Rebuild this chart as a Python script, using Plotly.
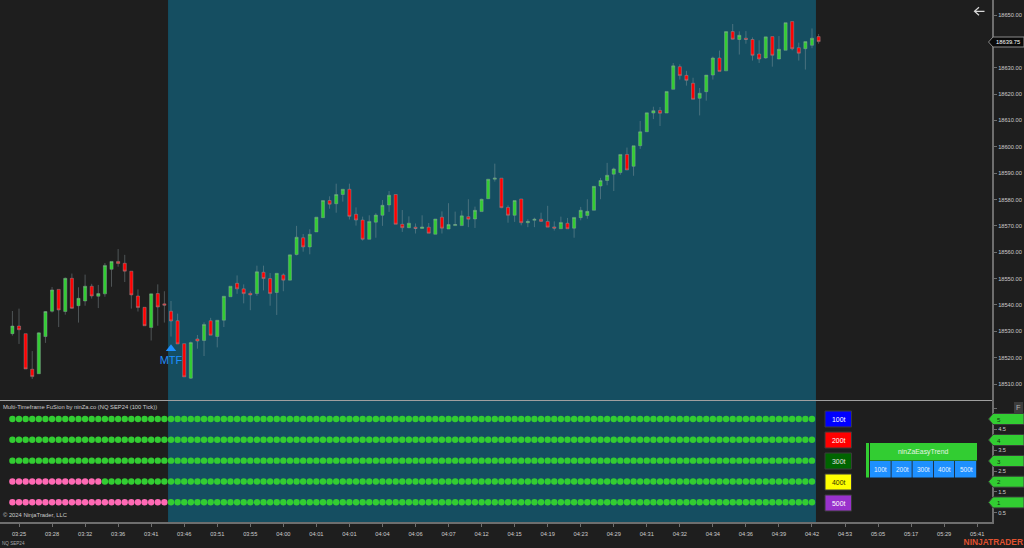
import plotly.graph_objects as go

# candles (NQ SEP24, 100 tick)
opens = [18529.1, 18532.0, 18529.1, 18515.6, 18513.9, 18528.0, 18537.6, 18545.9, 18537.5, 18550.1,
         18539.7, 18541.5, 18547.1, 18543.3, 18544.2, 18553.5, 18556.5, 18555.8, 18552.8, 18543.4,
         18539.1, 18531.4, 18544.3, 18540.4, 18537.6, 18534.0, 18525.3, 18512.2, 18527.1, 18526.5,
         18534.0, 18528.0, 18534.2, 18543.1, 18548.2, 18546.1, 18544.4, 18544.3, 18552.4, 18550.0,
         18544.7, 18551.4, 18549.4, 18559.1, 18565.5, 18562.0, 18567.7, 18573.1, 18579.6, 18578.4,
         18581.9, 18583.9, 18574.4, 18572.2, 18564.9, 18571.4, 18574.0, 18577.9, 18581.9, 18570.6,
         18569.3, 18569.5, 18569.0, 18569.5, 18566.8, 18573.3, 18568.8, 18570.1, 18570.1, 18573.5,
         18572.6, 18575.4, 18580.3, 18587.7, 18588.1, 18577.0, 18574.0, 18580.2, 18571.2, 18572.1,
         18572.5, 18571.7, 18569.6, 18568.9, 18571.0, 18569.1, 18573.1, 18573.9, 18575.9, 18585.1,
         18587.2, 18589.6, 18590.2, 18597.1, 18592.6, 18600.4, 18605.7, 18612.8, 18613.8, 18612.8,
         18621.8, 18630.4, 18627.1, 18624.1, 18618.4, 18620.9, 18627.2, 18633.7, 18628.8, 18643.7,
         18640.7, 18641.2, 18640.7, 18635.2, 18633.7, 18641.8, 18633.3, 18636.6, 18647.5, 18637.6,
         18637.2, 18638.5, 18641.8]
highs = [18537.7, 18538.6, 18529.1, 18522.5, 18529.6, 18537.7, 18546.8, 18545.9, 18550.4, 18551.9,
         18546.7, 18551.5, 18548.0, 18547.6, 18555.9, 18556.5, 18561.2, 18559.0, 18552.8, 18545.9,
         18539.1, 18544.2, 18547.8, 18545.2, 18541.5, 18536.7, 18525.3, 18526.1, 18528.6, 18533.4,
         18535.1, 18534.2, 18543.3, 18547.1, 18551.2, 18547.8, 18545.2, 18554.9, 18554.9, 18552.1,
         18552.0, 18552.0, 18559.0, 18570.0, 18566.9, 18568.7, 18573.3, 18579.7, 18581.2, 18586.0,
         18583.9, 18586.0, 18577.0, 18573.5, 18574.0, 18574.8, 18579.8, 18583.2, 18581.9, 18576.0,
         18573.6, 18570.9, 18574.0, 18571.1, 18572.6, 18575.5, 18578.6, 18575.4, 18575.8, 18580.1,
         18577.3, 18580.3, 18587.7, 18593.6, 18588.1, 18577.8, 18579.6, 18580.2, 18572.5, 18573.1,
         18575.0, 18577.6, 18571.7, 18573.5, 18573.0, 18573.2, 18577.2, 18580.1, 18585.0, 18588.2,
         18593.9, 18592.1, 18597.1, 18599.7, 18600.4, 18609.8, 18612.9, 18615.2, 18615.1, 18621.0,
         18631.8, 18631.3, 18628.8, 18626.2, 18622.3, 18627.2, 18634.2, 18636.5, 18643.7, 18646.6,
         18643.8, 18643.9, 18641.5, 18640.4, 18641.7, 18641.8, 18642.0, 18647.1, 18647.5, 18639.5,
         18639.9, 18644.9, 18642.8]
lows = [18528.35, 18525.2, 18515.7, 18511.9, 18513.9, 18525.6, 18537.1, 18531.6, 18536.3, 18538.5,
        18533.3, 18539.7, 18542.4, 18538.8, 18543.1, 18546.9, 18554.5, 18548.7, 18538.6, 18537.5,
        18532.1, 18526.5, 18532.1, 18533.3, 18528.0, 18525.2, 18512.7, 18511.9, 18523.4, 18520.6,
        18528.5, 18523.9, 18531.6, 18543.1, 18544.2, 18540.6, 18538.0, 18543.5, 18545.5, 18539.7,
        18536.2, 18545.2, 18549.4, 18558.8, 18560.2, 18559.2, 18567.7, 18573.1, 18576.5, 18575.0,
        18579.2, 18572.4, 18570.1, 18564.4, 18564.9, 18565.5, 18570.0, 18575.3, 18570.6, 18567.7,
        18569.1, 18567.1, 18569.0, 18567.2, 18566.8, 18567.1, 18568.8, 18570.1, 18570.1, 18569.5,
        18569.2, 18575.4, 18580.3, 18586.8, 18576.7, 18571.2, 18571.5, 18570.2, 18569.5, 18569.5,
        18571.5, 18569.5, 18568.2, 18568.9, 18568.9, 18565.5, 18572.1, 18572.7, 18575.9, 18580.1,
        18585.4, 18583.2, 18589.4, 18591.2, 18589.0, 18599.2, 18605.7, 18610.5, 18607.9, 18612.8,
        18621.8, 18625.5, 18623.2, 18618.0, 18611.9, 18617.5, 18625.5, 18628.6, 18628.8, 18640.7,
        18635.0, 18639.1, 18632.7, 18631.8, 18633.4, 18630.4, 18633.2, 18636.6, 18636.6, 18632.7,
        18629.3, 18637.4, 18639.1]
closes = [18532.0, 18530.6, 18515.7, 18512.8, 18529.4, 18537.5, 18545.7, 18538.1, 18550.1, 18538.7,
          18542.5, 18547.1, 18543.4, 18544.3, 18555.0, 18556.5, 18555.7, 18552.8, 18543.8, 18539.0,
          18532.1, 18544.2, 18539.2, 18539.9, 18533.9, 18525.2, 18512.7, 18525.7, 18526.3, 18532.6,
          18528.5, 18534.2, 18543.3, 18547.1, 18546.1, 18544.3, 18543.8, 18552.6, 18550.0, 18544.3,
          18552.0, 18549.4, 18559.0, 18565.7, 18562.0, 18566.8, 18573.3, 18579.6, 18578.2, 18581.9,
          18583.9, 18573.6, 18572.2, 18564.9, 18571.7, 18574.1, 18577.8, 18581.6, 18570.6, 18569.3,
          18571.0, 18569.0, 18569.6, 18567.2, 18572.6, 18569.1, 18570.5, 18570.5, 18573.8, 18572.5,
          18575.9, 18580.1, 18587.7, 18588.1, 18576.9, 18574.0, 18579.6, 18571.2, 18571.7, 18572.5,
          18571.7, 18569.5, 18569.1, 18571.3, 18568.9, 18573.2, 18575.9, 18575.5, 18585.0, 18587.2,
          18589.2, 18591.6, 18597.1, 18591.2, 18600.4, 18605.7, 18612.9, 18613.7, 18612.7, 18621.0,
          18630.7, 18627.0, 18625.2, 18618.0, 18620.3, 18627.2, 18633.7, 18628.6, 18643.7, 18640.8,
          18642.3, 18640.7, 18634.7, 18633.3, 18641.7, 18634.7, 18637.0, 18647.1, 18637.2, 18635.5,
          18639.9, 18641.2, 18639.9]
last_price = "18639.75"

price_ticks = [18510, 18520, 18530, 18540, 18550, 18560, 18570, 18580, 18590, 18600, 18610, 18620, 18630, 18640, 18650]
# 18640.00 sits under the last price flag
price_labels = ["18510.00", "18520.00", "18530.00", "18540.00", "18550.00", "18560.00", "18570.00", "18580.00",
                "18590.00", "18600.00", "18610.00", "18620.00", "18630.00", "", "18650.00"]

time_labels = ["03:25", "03:28", "03:32", "03:36", "03:41", "03:46", "03:51", "03:55", "04:00", "04:01",
               "04:01", "04:04", "04:06", "04:07", "04:12", "04:15", "04:19", "04:23", "04:29", "04:31",
               "04:32", "04:34", "04:36", "04:39", "04:42", "04:53", "05:05", "05:17", "05:29", "05:41"]
time_ticks = [1 + 5 * k for k in range(len(time_labels))]

# fusion panel: 5 rows of dots, pink until the row flips to green
row_levels = [5, 4, 3, 2, 1]
row_pink_bars = [0, 0, 0, 14, 24]
dot_count = 122
panel_ticks = [0.5, 1, 1.5, 2, 2.5, 3, 3.5, 4, 4.5, 5, 5.5]
panel_labels = ["0.5", "", "1.5", "", "2.5", "", "3.5", "", "4.5", "", ""]

legend_names = ["100t", "200t", "300t", "400t", "500t"]
legend_fills = ["#0000FF", "#FF0000", "#006400", "#FFFF00", "#9932CC"]
legend_text = ["#FFFFFF", "#FFFFFF", "#E0E0E0", "#333300", "#FFFFFF"]

signal_bar = [24]
signal_price = [18523.4]

BG = "#1E1E1E"
TEAL = "#154E61"
GREEN = "#32CD32"
RED = "#FF0000"
PINK = "#FF69B4"
AXIS = "#6E6E6E"
TXT = "#CCCCCC"
FONT = "Liberation Sans"


def px(x):
    return x / 1024


def py(y):
    return 1 - y / 548


bars = list(range(len(opens)))

fig = go.Figure()
fig.add_trace(go.Candlestick(
    x=bars, open=opens, high=highs, low=lows, close=closes,
    whiskerwidth=0, xaxis="x", yaxis="y", showlegend=False, hoverinfo="skip",
    increasing=dict(line=dict(color="rgba(150,165,170,0.45)", width=0.9), fillcolor=GREEN),
    decreasing=dict(line=dict(color="rgba(150,165,170,0.45)", width=0.9), fillcolor=RED)))

fig.add_trace(go.Scatter(
    x=signal_bar, y=signal_price, mode="markers+text", text=["MTF"], textposition="bottom center",
    textfont=dict(family=FONT, size=11, color="#1E90FF"), xaxis="x", yaxis="y",
    marker=dict(symbol="triangle-up", size=9, color="#1E90FF"), showlegend=False, hoverinfo="skip"))

for level, pink in zip(row_levels, row_pink_bars):
    colors = [PINK if i < pink else GREEN for i in range(dot_count)]
    fig.add_trace(go.Scatter(
        x=list(range(dot_count)), y=[level] * dot_count, mode="markers", xaxis="x", yaxis="y2",
        marker=dict(size=6.4, color=colors, line=dict(width=0)), showlegend=False, hoverinfo="skip"))

# logo on a hidden full-page axis, a paper annotation this close to the edge pushes the margins
fig.add_trace(go.Scatter(
    x=[1023], y=[542.5], mode="text", text=["<b>NINJATRADER</b>"], textposition="middle left",
    textfont=dict(family=FONT, size=8.4, color="#E0512F"), xaxis="x2", yaxis="y3",
    showlegend=False, hoverinfo="skip"))

shapes = [
    dict(type="rect", xref="x", yref="paper", x0=23.55, x1=121.6, y0=py(522), y1=1,
         fillcolor=TEAL, line=dict(width=0), layer="below"),
    dict(type="line", xref="paper", yref="paper", x0=0, x1=px(992), y0=py(400.5), y1=py(400.5),
         line=dict(color="#A0A0A0", width=1)),
]
annotations = []


def label(x, y, text, size=5.7, color=TXT, anchor="center"):
    annotations.append(dict(xref="paper", yref="paper", x=px(x), y=py(y), text=text, showarrow=False,
                            xanchor=anchor, yanchor="middle", borderpad=0, borderwidth=0,
                            font=dict(family=FONT, size=size, color=color)))


def box(x0, y0, x1, y1, fill, line=None):
    shapes.append(dict(type="rect", xref="paper", yref="paper", x0=px(x0), x1=px(x1), y0=py(y0), y1=py(y1),
                       fillcolor=fill, line=dict(width=1 if line else 0, color=line or fill)))


# colour key next to the dots
for k, name in enumerate(legend_names):
    top = 411 + 21 * k
    box(825, top, 851.5, top + 16, legend_fills[k], "#3A3A3A")
    label(838.5, top + 8, name, size=6.9, color=legend_text[k])

# ninZaEasyTrend panel
box(866, 443, 869, 477.5, GREEN)
box(870, 443, 977, 460.5, GREEN)
label(923, 452, "ninZaEasyTrend", size=6.9, color="#E4F4E4")
cell_edges = [870, 891.5, 912.5, 934, 955, 977]
for k, name in enumerate(legend_names):
    box(cell_edges[k], 461, cell_edges[k + 1] - 0.8, 477.5, "#1E90FF")
    label((cell_edges[k] + cell_edges[k + 1]) / 2, 469.5, name, size=6.5, color="#E8F2FF")

# level flags on the panel axis
for level, y in zip(row_levels, [419, 440, 461, 481.7, 502.4]):
    path = "M {} {} L {} {} L {} {} L {} {} L {} {} Z".format(
        px(988.5), py(y), px(993), py(y - 5.5), px(1024), py(y - 5.5), px(1024), py(y + 5.5), px(993), py(y + 5.5))
    shapes.append(dict(type="path", xref="paper", yref="paper", path=path, fillcolor=GREEN,
                       line=dict(color="#3a3a3a", width=1)))
    label(998.5, y, str(level), size=6.2, color="#10300F")

# last price flag
path = "M {} {} L {} {} L {} {} L {} {} L {} {} Z".format(
    px(988.5), py(42), px(993), py(37), px(1024), py(37), px(1024), py(47), px(993), py(47))
shapes.append(dict(type="path", xref="paper", yref="paper", path=path, fillcolor="#0A0A0A",
                   line=dict(color="#8A8A8A", width=1)))
label(1008, 42.2, last_price, size=5.8, color="#FFFFFF")

# back arrow
arrow = "M {} {} L {} {} M {} {} L {} {} L {} {}".format(
    px(974.5), py(11.3), px(984.5), py(11.3), px(979), py(7.3), px(974.5), py(11.3), px(979), py(15.3))
shapes.append(dict(type="path", xref="paper", yref="paper", path=arrow, line=dict(color="#D8D8D8", width=1.2)))

# F button
box(1014, 402, 1023, 413, "#3C3C3C")
label(1018.5, 407.5, "F", size=7.5, color="#B0B0B0")

label(3, 407, "Multi-Timeframe FuSion by ninZa.co (NQ SEP24 (100 Tick))", size=5.8, anchor="left")
label(3, 515, "© 2024 NinjaTrader, LLC", size=5.8, anchor="left")
label(2, 543, "NQ SEP24", size=4.6, color="#A8A8A8", anchor="left")

axis_font = dict(family=FONT, size=5.7, color=TXT)
fig.update_layout(
    width=1024, height=548, margin=dict(l=0, r=0, t=0, b=0), paper_bgcolor=BG, plot_bgcolor="rgba(0,0,0,0)",
    font=dict(family=FONT), shapes=shapes, annotations=annotations, showlegend=False, boxgap=0.32,
    xaxis=dict(domain=[0, px(992)], range=[-1.877, 148.24], anchor="y2", tickmode="array",
               tickvals=time_ticks, ticktext=time_labels, ticks="outside", ticklen=3, tickcolor=AXIS,
               showgrid=False, zeroline=False, showline=True, linecolor=AXIS, linewidth=2,
               ticklabelstandoff=2, tickfont=axis_font, rangeslider=dict(visible=False)),
    yaxis=dict(domain=[py(400.5), 1], range=[18503.74, 18655.69], side="right", anchor="x",
               tickmode="array", tickvals=price_ticks, ticktext=price_labels,
               ticks="outside", ticklen=3, tickcolor=AXIS, showgrid=False, zeroline=False,
               showline=True, linecolor=AXIS, linewidth=2, tickfont=axis_font),
    yaxis2=dict(domain=[py(522), py(401)], range=[0.054, 5.864], side="right", anchor="x",
                tickmode="array", tickvals=panel_ticks, ticktext=panel_labels, ticks="outside", ticklen=3,
                tickcolor=AXIS, showgrid=False, zeroline=False, showline=True, linecolor=AXIS, linewidth=2,
                tickfont=axis_font),
    xaxis2=dict(domain=[0, 1], range=[0, 1024], anchor="y3", visible=False),
    yaxis3=dict(domain=[0, 1], range=[548, 0], anchor="x2", visible=False),
)

fig.write_html("out.html", post_script="document.body.style.margin='0';", config=dict(displayModeBar=False))
